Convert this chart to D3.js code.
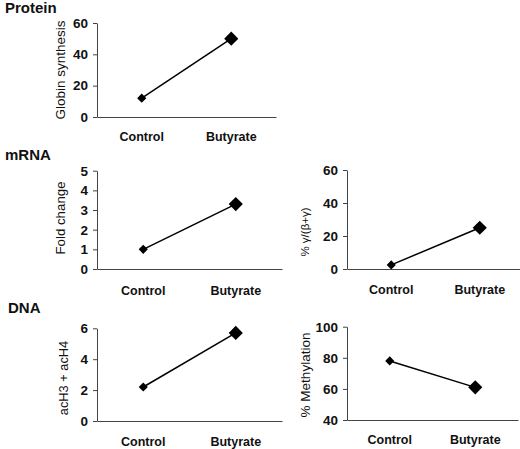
<!DOCTYPE html>
<html><head><meta charset="utf-8">
<script src="https://cdn.jsdelivr.net/npm/d3@7"></script>
<style>body{margin:0;background:#fff}svg{display:block}</style>
</head><body>
<script>
const categories = ["Control", "Butyrate"];
const proteinValues = [12, 50];
const mrnaFoldValues = [1.0, 3.3];
const mrnaGammaValues = [2.5, 25];
const dnaAcetylValues = [2.2, 5.7];
const dnaMethylValues = [78, 61];
const proteinTicks = [0, 20, 40, 60];
const mrnaFoldTicks = [0, 1, 2, 3, 4, 5];
const mrnaGammaTicks = [0, 20, 40, 60];
const dnaAcetylTicks = [0, 2, 4, 6];
const dnaMethylTicks = [40, 60, 80, 100];
const sectionTitles = ["Protein", "mRNA", "DNA"];

const svg = d3.select("body").append("svg").attr("width", 520).attr("height", 449);
const font = "Liberation Sans, Arial, Helvetica, sans-serif";

const panels = [
  {values: proteinValues, ticks: proteinTicks, domain: [0,60], x0: 97, x1: 276, y0: 117, y1: 23, label: "Globin synthesis", lx: 60, ly: 70, lsize: 13.5, cy: 141},
  {values: mrnaFoldValues, ticks: mrnaFoldTicks, domain: [0,5], x0: 97, x1: 282, y0: 269, y1: 170.7, label: "Fold change", lx: 60, ly: 218, lsize: 13.3, cy: 295},
  {values: mrnaGammaValues, ticks: mrnaGammaTicks, domain: [0,60], x0: 347, x1: 524, y0: 269, y1: 170, label: "% γ/(β+γ)", lx: 305, ly: 232, lsize: 11.5, cy: 294},
  {values: dnaAcetylValues, ticks: dnaAcetylTicks, domain: [0,6], x0: 97, x1: 282, y0: 421, y1: 328.3, label: "acH3 + acH4", lx: 63, ly: 378, lsize: 12.8, cy: 446},
  {values: dnaMethylValues, ticks: dnaMethylTicks, domain: [40,100], x0: 347, x1: 518, y0: 420, y1: 326.7, label: "% Methylation", lx: 305, ly: 375, lsize: 13.5, cy: 444}
];

panels.forEach(p => {
  const x = d3.scalePoint().domain(categories).range([p.x0, p.x1]).padding(0.5);
  const y = d3.scaleLinear().domain(p.domain).range([p.y0, p.y1]);
  const g = svg.append("g");
  const ya = g.append("g").attr("transform", `translate(${p.x0},0)`)
    .call(d3.axisLeft(y).tickValues(p.ticks).tickFormat(d3.format("d")).tickSize(4).tickPadding(5).tickSizeOuter(0));
  ya.select(".domain").attr("stroke", "#444");
  ya.selectAll(".tick line").attr("stroke", "#444");
  ya.selectAll(".tick text").attr("font-family", font).attr("font-weight", "bold").attr("font-size", 13.5).attr("fill", "#111");
  const xa = g.append("g").attr("transform", `translate(0,${p.y0})`)
    .call(d3.axisBottom(x).tickSize(0).tickSizeOuter(0).tickFormat(""));
  xa.select(".domain").attr("stroke", "#444");
  xa.selectAll(".tick text").remove();
  g.selectAll(".cat").data(categories).enter().append("text")
    .attr("x", d => x(d)).attr("y", p.cy).attr("text-anchor", "middle")
    .attr("font-family", font).attr("font-weight", "bold").attr("font-size", 12.5).attr("fill", "#111")
    .text(d => d);
  g.append("text").attr("transform", `translate(${p.lx},${p.ly}) rotate(-90)`)
    .attr("text-anchor", "middle").attr("dominant-baseline", "central")
    .attr("font-family", font).attr("font-size", p.lsize).attr("fill", "#111").text(p.label);
  const pts = categories.map((c, i) => [x(c), y(p.values[i])]);
  g.append("path").attr("d", d3.line()(pts)).attr("stroke", "#000").attr("stroke-width", 1.5).attr("fill", "none");
  const sizes = [42, 100];
  g.selectAll(".mk").data(pts).enter().append("path")
    .attr("d", (d, i) => d3.symbol().type(d3.symbolSquare).size(sizes[i])())
    .attr("transform", d => `translate(${d[0]},${d[1]}) rotate(45)`)
    .attr("fill", "#000");
});

const titlePos = [[5, 13], [5, 160], [8, 313]];
svg.selectAll(".title").data(sectionTitles).enter().append("text")
  .attr("x", (d, i) => titlePos[i][0]).attr("y", (d, i) => titlePos[i][1])
  .attr("font-family", font).attr("font-weight", "bold").attr("font-size", 15).attr("fill", "#111")
  .text(d => d);
</script>
</body></html>
